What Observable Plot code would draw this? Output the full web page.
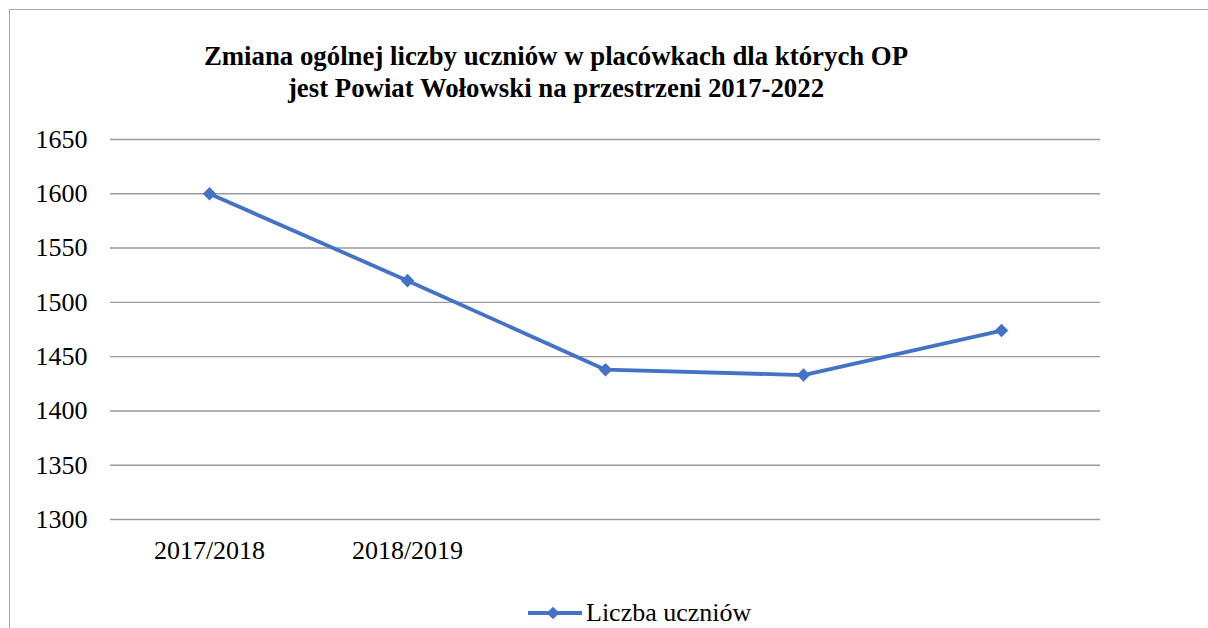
<!DOCTYPE html>
<html><head><meta charset="utf-8">
<script src="https://cdn.jsdelivr.net/npm/d3@7"></script>
<script src="https://cdn.jsdelivr.net/npm/@observablehq/plot@0.6"></script>
<style>
body{margin:0;background:#fff;width:1208px;height:628px;overflow:hidden;position:relative;font-family:"Liberation Serif","Times New Roman",serif;color:#000;}
#frame{position:absolute;left:9px;top:9px;width:1300px;height:700px;border:1.5px solid #a6a6a6;}
#title{position:absolute;left:0;width:1112px;top:40px;text-align:center;font-weight:bold;font-size:26.8px;line-height:32px;}
#chart{position:absolute;left:0;top:110px;}
#chart svg text{font-family:"Liberation Serif","Times New Roman",serif !important;}
#legend{position:absolute;left:527px;top:598px;height:30px;display:flex;align-items:center;font-size:26px;}
</style></head>
<body>
<div id="frame"></div>
<div id="title">Zmiana ogólnej liczby uczniów w placówkach dla których OP<br>jest Powiat Wołowski na przestrzeni 2017-2022</div>
<div id="chart"></div>
<div id="legend"><svg width="56" height="20" style="margin-right:3px"><line x1="1" x2="55" y1="10" y2="10" stroke="#4472C4" stroke-width="3.8"/><rect x="21.5" y="5.5" width="9" height="9" fill="#4472C4" transform="rotate(45 26 10)"/></svg><span>Liczba uczniów</span></div>
<script>
const categories = ["2017/2018","2018/2019","2019/2020","2020/2021","2021/2022"];
const tickLabels = ["2017/2018","2018/2019","","",""];
const values = [1600, 1520, 1438, 1433, 1474];
const yTicks = [1300,1350,1400,1450,1500,1550,1600,1650];
const seriesName = "Liczba uczniów";

const data = categories.map((c,i)=>({cat:c, value:values[i]}));
const blue = "#4472C4";
const chart = Plot.plot({
  width:1208, height:480,
  marginLeft:110, marginRight:108, marginTop:29, marginBottom:71,
  style:{fontFamily:"Liberation Serif, Times New Roman, serif", fontSize:"26px", color:"#000", background:"transparent"},
  x:{type:"point", domain:categories, padding:0.5, label:null, tickSize:0, tickPadding:21,
     tickFormat:d=>tickLabels[categories.indexOf(d)]},
  y:{domain:[1300,1650], ticks:yTicks, label:null, tickSize:0, tickPadding:23, tickFormat:d=>String(d)},
  marks:[
    Plot.ruleY(yTicks,{stroke:"#9a9a9a", strokeWidth:1.4}),
    Plot.line(data,{x:"cat", y:"value", stroke:blue, strokeWidth:3.8}),
    Plot.dot(data,{x:"cat", y:"value", symbol:"square", rotate:45, r:5.4, fill:blue, stroke:"none"})
  ]
});
document.getElementById("chart").appendChild(chart);
</script>
</body></html>
